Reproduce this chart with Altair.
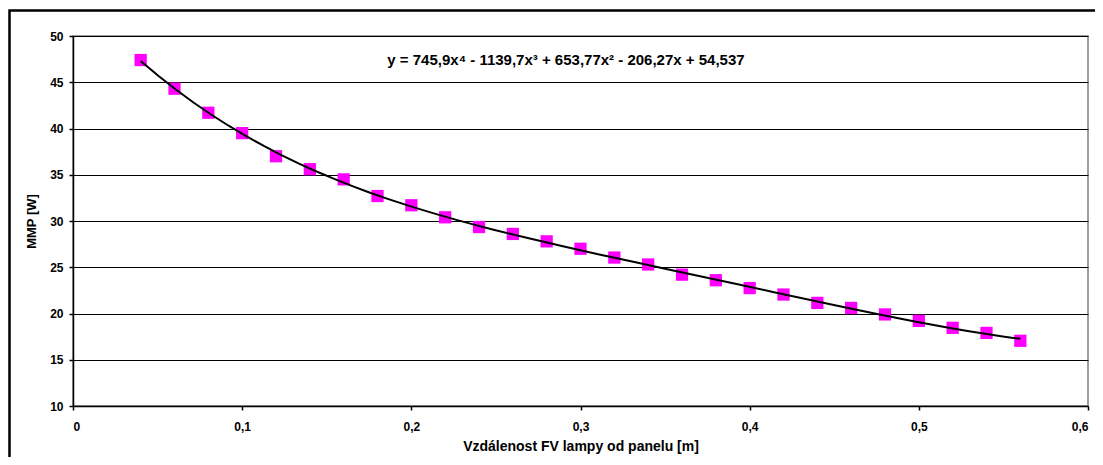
import altair as alt
import pandas as pd

# Data
distance_m = [0.04, 0.06, 0.08, 0.10, 0.12, 0.14, 0.16, 0.18, 0.20, 0.22, 0.24, 0.26, 0.28,
              0.30, 0.32, 0.34, 0.36, 0.38, 0.40, 0.42, 0.44, 0.46, 0.48, 0.50, 0.52, 0.54, 0.56]
mmp_w = [47.4, 44.3, 41.7, 39.5, 37.0, 35.6, 34.5, 32.7, 31.7, 30.4, 29.35, 28.6, 27.8,
         27.0, 26.05, 25.3, 24.2, 23.6, 22.75, 22.05, 21.15, 20.6, 19.9, 19.2, 18.45, 17.9, 17.05]
equation_text = ["y = 745,9x\u2074 - 1139,7x\u00b3 + 653,77x\u00b2 - 206,27x + 54,537"]
equation_pos = [0.2914, 47.4]
x_ticks = [0, 0.1, 0.2, 0.3, 0.4, 0.5, 0.6]
y_ticks = [10, 15, 20, 25, 30, 35, 40, 45, 50]

df = pd.DataFrame({"x": distance_m, "y": mmp_w})
eq_df = pd.DataFrame({"x": [equation_pos[0]], "y": [equation_pos[1]], "t": equation_text})

FONT = "Liberation Sans"
W, H = 1015, 370

xs = alt.Scale(domain=[0, 0.6], nice=False, zero=False)
ys = alt.Scale(domain=[10, 50], nice=False, zero=False)

x_axis = alt.Axis(values=x_ticks, title="Vzdálenost FV lampy od panelu [m]",
                  labelExpr="replace(format(datum.value, '~g'), '.', ',')",
                  grid=False, tickSize=4, labelPadding=11, titlePadding=7)
y_axis = alt.Axis(values=y_ticks, title="MMP [W]", grid=True, tickSize=4,
                  labelPadding=6, titlePadding=11)

frame = alt.Chart(pd.DataFrame({"a": [0]})).mark_rect(
    fill=None, stroke="black", strokeWidth=2.5
).encode(x=alt.value(-63.5), x2=alt.value(W + 40), y=alt.value(-25.5), y2=alt.value(H + 80))

points = alt.Chart(df).mark_square(size=150, color="#FF00FF", opacity=1).encode(
    x=alt.X("x:Q", scale=xs, axis=x_axis),
    y=alt.Y("y:Q", scale=ys, axis=y_axis),
)

trend = alt.Chart(df).transform_regression(
    "x", "y", method="poly", order=4
).mark_line(color="black", strokeWidth=2).encode(
    x=alt.X("x:Q", scale=xs),
    y=alt.Y("y:Q", scale=ys),
)

eq = alt.Chart(eq_df).mark_text(font=FONT, fontSize=15, fontWeight="bold", color="black").encode(
    x=alt.X("x:Q", scale=xs), y=alt.Y("y:Q", scale=ys), text="t:N"
)

chart = alt.layer(frame, points, trend, eq).properties(
    width=W, height=H,
    autosize=alt.AutoSizeParams(type="none"),
    padding={"left": 65, "top": 28, "right": 7, "bottom": 51},
).configure_view(
    stroke="#808080", strokeWidth=1.5
).configure_axis(
    labelFont=FONT, titleFont=FONT, labelFontSize=12, titleFontSize=13,
    labelFontWeight="bold", titleFontWeight="bold", labelColor="black", titleColor="black",
    domainColor="black", tickColor="black", gridColor="black", gridOpacity=1, gridWidth=1,
    domainWidth=1.5, tickWidth=1.5,
).configure_axisX(titleFontSize=14)

chart.save("out.html", embed_options={"renderer": "svg", "actions": False})
